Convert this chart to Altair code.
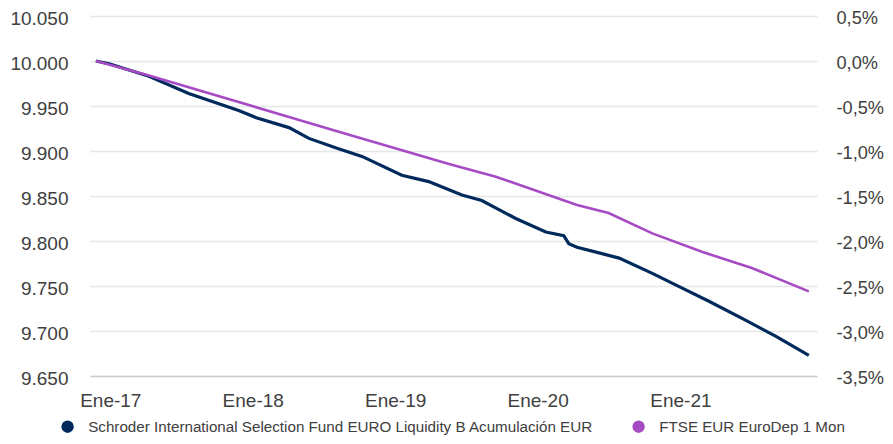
import altair as alt
import pandas as pd

fund_name = "Schroder International Selection Fund EURO Liquidity B Acumulación EUR"
bench_name = "FTSE EUR EuroDep 1 Mon"

fund_dates = [
    "2016-11-25", "2016-12-29", "2017-04-10", "2017-07-21", "2017-11-26",
    "2018-01-10", "2018-04-04", "2018-05-25", "2018-08-05", "2018-10-08",
    "2019-01-18", "2019-03-28", "2019-06-21", "2019-08-11", "2019-11-06",
    "2020-01-22", "2020-03-08", "2020-03-21", "2020-04-11", "2020-06-14",
    "2020-07-28", "2020-10-21", "2020-12-21", "2021-03-15", "2021-06-08",
    "2021-09-03", "2021-11-26",
]
fund_values = [
    10000, 9997, 9983, 9964, 9945,
    9937, 9926, 9914, 9903, 9894,
    9873, 9866, 9851, 9845, 9825,
    9810, 9806, 9797, 9793, 9786,
    9781, 9764, 9751, 9733, 9714,
    9694, 9673,
]

bench_dates = [
    "2016-11-25", "2017-04-10", "2018-08-05", "2019-05-19", "2019-09-16",
    "2020-04-11", "2020-07-01", "2020-10-21", "2021-02-25", "2021-07-03",
    "2021-11-26",
]
bench_values = [
    10000, 9984, 9922, 9885.5, 9871.5,
    9840, 9831, 9808.5, 9788, 9770,
    9744,
]

left_ticks = [9650, 9700, 9750, 9800, 9850, 9900, 9950, 10000, 10050]
right_ticks = [-3.5, -3.0, -2.5, -2.0, -1.5, -1.0, -0.5, 0.0, 0.5]
year_ticks = [2017, 2018, 2019, 2020, 2021]

navy = "#002a5c"
purple = "#a64bc4"
font = "Liberation Sans"
text_color = "#404040"

df = pd.concat([
    pd.DataFrame({"date": fund_dates, "value": fund_values, "series": fund_name}),
    pd.DataFrame({"date": bench_dates, "value": bench_values, "series": bench_name}),
], ignore_index=True)

x_enc = alt.X(
    "date:T",
    title=None,
    scale=alt.Scale(domain=[alt.DateTime(year=2016, month=11, date=10),
                            alt.DateTime(year=2021, month=12, date=17)]),
    axis=alt.Axis(
        values=[alt.DateTime(year=y, month=1, date=1) for y in year_ticks],
        labelExpr="'Ene-' + timeFormat(datum.value, '%y')",
        grid=False, ticks=False, domain=True, domainColor="#cccccc", domainWidth=1.5,
        labelFont=font, labelFontSize=19, labelColor=text_color, labelPadding=15,
        labelFlush=False,
    ),
)

y_scale = alt.Scale(domain=[9650, 10050], nice=False, zero=False)

fund_line = alt.Chart(df).transform_filter(
    alt.datum.series == fund_name
).mark_line(color=navy, strokeWidth=3.2).encode(
    x=x_enc,
    y=alt.Y("value:Q", title=None, scale=y_scale, axis=alt.Axis(
        values=left_ticks,
        labelExpr="replace(format(datum.value, ',.0f'), ',', '.')",
        grid=True, gridColor="#e6e6e6", gridWidth=1.5,
        ticks=False, domain=False, labelOffset=2,
        labelFont=font, labelFontSize=19, labelColor=text_color, labelPadding=22,
    )),
)

bench_line = alt.Chart(df).transform_filter(
    alt.datum.series == bench_name
).mark_line(color=purple, strokeWidth=2.6).encode(
    x=x_enc,
    y=alt.Y("value:Q", title=None, scale=y_scale, axis=None),
)

legend_layer = alt.Chart(df).mark_point(filled=True, opacity=0, size=1).encode(
    x=x_enc,
    y=alt.Y("value:Q", title=None, scale=y_scale, axis=None),
    fill=alt.Fill(
        "series:N",
        scale=alt.Scale(domain=[fund_name, bench_name], range=[navy, purple]),
        sort=None,
        legend=alt.Legend(
            title=None, orient="none", legendX=-30, legendY=403,
            direction="horizontal", symbolType="circle", symbolSize=154,
            symbolOpacity=1, symbolStrokeWidth=0,
            labelFont=font, labelFontSize=15.2, labelColor=text_color,
            labelOffset=13, columnPadding=37, labelLimit=1000, padding=0,
        ),
    ),
)

right_axis = alt.Chart(df).transform_filter(
    alt.datum.series == bench_name
).transform_calculate(
    pct="(datum.value / 10000 - 1) * 100"
).mark_line(opacity=0).encode(
    x=x_enc,
    y=alt.Y("pct:Q", title=None,
            scale=alt.Scale(domain=[-3.5, 0.5], nice=False, zero=False),
            axis=alt.Axis(
                orient="right", values=right_ticks,
                labelExpr="(datum.value < -0.0001 ? '-' : '') + replace(format(abs(datum.value), '.1f'), '.', ',') + '%'",
                grid=False, ticks=False, domain=False, labelOffset=2,
                labelFont=font, labelFontSize=18.2, labelColor=text_color, labelPadding=19,
            )),
)

chart = alt.layer(
    fund_line, bench_line, legend_layer, right_axis
).resolve_scale(
    y="independent"
).properties(
    width=727, height=360,
    autosize=alt.AutoSizeParams(type="none"),
    padding={"left": 82, "top": 8, "right": 68, "bottom": 60},
    background="white",
).configure_view(stroke=None)

chart.save("out.html", embed_options={"renderer": "svg", "actions": False})
